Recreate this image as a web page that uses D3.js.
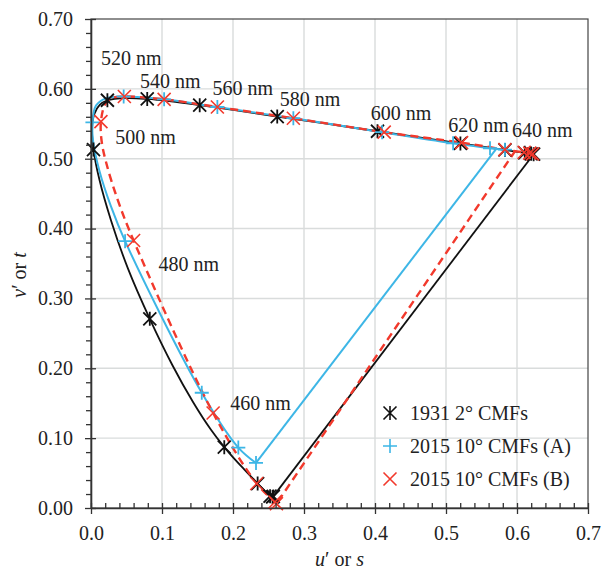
<!DOCTYPE html>
<html>
<head>
<meta charset="utf-8">
<script src="https://cdn.jsdelivr.net/npm/d3@7"></script>
<style>
  html, body { margin: 0; padding: 0; background: #fff; }
  svg { display: block; font-family: "Liberation Serif", "Times New Roman", Times, "Noto Serif", "DejaVu Serif", "Nimbus Roman", FreeSerif, serif; }
  svg text { fill: #222; }
</style>
</head>
<body>
<svg id="chart" width="604" height="574"></svg>
<script>
// Spectral locus, CIE 1931 2° observer (u', v')
const wl1931 = [380, 400, 420, 430, 440, 450, 455, 460, 465, 470, 475, 480, 485, 490, 495, 500, 505, 510, 515, 520, 530, 540, 550, 560, 570, 580, 590, 600, 610, 620, 630, 640, 660, 680, 700];
const u1931 = [0.2568, 0.2557, 0.2522, 0.2461, 0.2347, 0.2161, 0.2033, 0.1877, 0.1690, 0.1441, 0.1147, 0.0828, 0.0521, 0.0282, 0.0119, 0.0035, 0.0014, 0.0046, 0.0123, 0.0231, 0.0501, 0.0792, 0.1127, 0.1531, 0.2026, 0.2623, 0.3315, 0.4035, 0.4692, 0.5203, 0.5565, 0.5830, 0.6109, 0.6199, 0.6234];
const v1931 = [0.0166, 0.0159, 0.0169, 0.0226, 0.0350, 0.0549, 0.0688, 0.0871, 0.1119, 0.1510, 0.2044, 0.2708, 0.3427, 0.4117, 0.4698, 0.5131, 0.5432, 0.5638, 0.5770, 0.5837, 0.5868, 0.5856, 0.5821, 0.5766, 0.5694, 0.5604, 0.5501, 0.5393, 0.5296, 0.5219, 0.5165, 0.5125, 0.5084, 0.5070, 0.5065];
const purple1931U = [0.6234, 0.2568];
const purple1931V = [0.5065, 0.0166];

// 2015 10° CMFs, variant A (s, t); null wavelength = shape point without marker
const wlA = [420, 440, 460, 480, null, null, null, 500, null, null, 520, 540, 560, 580, 600, 620, 640, 660];
const uA = [0.2324, 0.2075, 0.156, 0.048, 0.028, 0.012, 0.003, 0.002, 0.007, 0.020, 0.046, 0.103, 0.178, 0.285, 0.410, 0.510, 0.562, 0.583];
const vA = [0.0645, 0.0865, 0.165, 0.382, 0.432, 0.482, 0.525, 0.552, 0.576, 0.586, 0.589, 0.585, 0.574, 0.558, 0.538, 0.522, 0.515, 0.513];
const purpleAU = [0.571, 0.2324];
const purpleAV = [0.5145, 0.0645];

// 2015 10° CMFs, variant B
const wlB = [400, 420, 440, 460, 480, null, null, null, 500, null, null, 520, 540, 560, 580, 600, 620, 640, 660, 680, 700];
const uB = [0.2612, 0.2590, 0.2334, 0.172, 0.060, 0.038, 0.022, 0.015, 0.014, 0.020, 0.030, 0.047, 0.103, 0.178, 0.285, 0.413, 0.522, 0.583, 0.610, 0.618, 0.622];
const vB = [0.0060, 0.0086, 0.0350, 0.136, 0.383, 0.440, 0.492, 0.525, 0.553, 0.578, 0.587, 0.589, 0.585, 0.574, 0.558, 0.538, 0.523, 0.513, 0.509, 0.508, 0.507];
const purpleBU = [0.598, 0.2612];
const purpleBV = [0.512, 0.006];

// Wavelength annotations: label, u, v of the text anchor
const waveLabels = ["520 nm", "540 nm", "560 nm", "580 nm", "600 nm", "620 nm", "640 nm", "500 nm", "480 nm", "460 nm"];
const waveLabelU = [0.014, 0.069, 0.171, 0.266, 0.394, 0.503, 0.593, 0.034, 0.095, 0.196];
const waveLabelV = [0.634, 0.601, 0.591, 0.575, 0.555, 0.538, 0.531, 0.521, 0.339, 0.140];

const xTicks = [0, 0.1, 0.2, 0.3, 0.4, 0.5, 0.6, 0.7];
const yTicks = [0, 0.1, 0.2, 0.3, 0.4, 0.5, 0.6, 0.7];
const legendLabels = ["1931 2° CMFs", "2015 10° CMFs (A)", "2015 10° CMFs (B)"];

const colBlack = "#111111", colCyan = "#3db6e6", colRed = "#f2392c";

const svg = d3.select("#chart");
const x = d3.scaleLinear().domain([0, 0.7]).range([91, 588]);
const y = d3.scaleLinear().domain([0, 0.7]).range([508, 19]);

// grid
const grid = svg.append("g");
grid.selectAll("line.gx").data(xTicks.slice(1, -1)).join("line")
  .attr("x1", d => x(d)).attr("x2", d => x(d)).attr("y1", y(0)).attr("y2", y(0.7))
  .attr("stroke", "#d9dcdc").attr("stroke-width", 1.4);
grid.selectAll("line.gy").data(yTicks.slice(1, -1)).join("line")
  .attr("y1", d => y(d)).attr("y2", d => y(d)).attr("x1", x(0)).attr("x2", x(0.7))
  .attr("stroke", "#d9dcdc").attr("stroke-width", 1.4);

// frame
svg.append("rect").attr("x", x(0)).attr("y", y(0.7)).attr("width", x(0.7) - x(0)).attr("height", y(0) - y(0.7))
  .attr("fill", "none").attr("stroke", "#444").attr("stroke-width", 1.2);

// curves
const pts = (us, vs) => us.map((u, i) => [u, vs[i]]);
const smooth = d3.line().x(d => x(d[0])).y(d => y(d[1])).curve(d3.curveCatmullRom.alpha(0.5));
const straight = d3.line().x(d => x(d[0])).y(d => y(d[1]));

const curves = svg.append("g").attr("fill", "none");
curves.append("path").attr("d", smooth(pts(u1931, v1931))).attr("stroke", colBlack).attr("stroke-width", 1.8);
curves.append("path").attr("d", straight(pts(purple1931U, purple1931V))).attr("stroke", colBlack).attr("stroke-width", 1.8);
curves.append("path").attr("d", smooth(pts(uA, vA))).attr("stroke", colCyan).attr("stroke-width", 2);
curves.append("path").attr("d", straight(pts(purpleAU, purpleAV))).attr("stroke", colCyan).attr("stroke-width", 2);
curves.append("path").attr("d", smooth(pts(uB, vB))).attr("stroke", colRed).attr("stroke-width", 2.4).attr("stroke-dasharray", "8,5");
curves.append("path").attr("d", straight(pts(purpleBU, purpleBV))).attr("stroke", colRed).attr("stroke-width", 2.4).attr("stroke-dasharray", "8,5");

// marker shapes
const r = 6.5;
const star = `M${-r},${-r}L${r},${r}M${-r},${r}L${r},${-r}M0,${-r - 0.5}L0,${r + 0.5}`;
const plus = `M${-r - 0.5},0L${r + 0.5},0M0,${-r - 0.5}L0,${r + 0.5}`;
const cross = `M${-r},${-r}L${r},${r}M${-r},${r}L${r},${-r}`;

function markers(wls, us, vs, shape, color, width) {
  const data = wls.map((w, i) => ({ w, u: us[i], v: vs[i] })).filter(d => d.w !== null && d.w % 20 === 0);
  svg.append("g").selectAll("path").data(data).join("path")
    .attr("transform", d => `translate(${x(d.u)},${y(d.v)})`)
    .attr("d", shape).attr("fill", "none").attr("stroke", color).attr("stroke-width", width);
}
markers(wl1931, u1931, v1931, star, colBlack, 1.8);
markers(wlA, uA, vA, plus, colCyan, 1.8);
markers(wlB, uB, vB, cross, colRed, 1.6);

// wavelength labels
svg.append("g").selectAll("text").data(waveLabels).join("text")
  .attr("x", (d, i) => x(waveLabelU[i])).attr("y", (d, i) => y(waveLabelV[i]))
  .attr("font-size", 20).text(d => d);

// axes
const xAxis = svg.append("g").attr("transform", `translate(0,${y(0)})`)
  .call(d3.axisBottom(x).tickValues(xTicks).tickFormat(d3.format(".1f")).tickSize(6).tickSizeOuter(0).tickPadding(12));
xAxis.selectAll(".tick line").attr("y1", -5);
const yAxis = svg.append("g").attr("transform", `translate(${x(0)},0)`)
  .call(d3.axisLeft(y).tickValues(yTicks).tickFormat(d3.format(".2f")).tickSize(6).tickSizeOuter(0).tickPadding(12));
yAxis.selectAll(".tick line").attr("x1", 5);

const minorVals = d3.range(1, 35).filter(i => i % 5 !== 0).map(i => i / 50);
const xMinor = svg.append("g").attr("transform", `translate(0,${y(0)})`)
  .call(d3.axisBottom(x).tickValues(minorVals).tickFormat("").tickSize(-5).tickSizeOuter(0));
const yMinor = svg.append("g").attr("transform", `translate(${x(0)},0)`)
  .call(d3.axisLeft(y).tickValues(minorVals).tickFormat("").tickSize(5).tickSizeOuter(0));
[xMinor, yMinor].forEach(g => g.select(".domain").remove());

[xAxis, yAxis, xMinor, yMinor].forEach(g => {
  g.attr("font-family", null).attr("font-size", 20);
  g.selectAll(".tick line").attr("stroke", "#333").attr("stroke-width", 1.3);
  g.selectAll(".domain").attr("stroke", "#333").attr("stroke-width", 1.6);
  g.selectAll("text").attr("fill", "#222");
});

// axis titles
const xt = svg.append("text").attr("x", (x(0) + x(0.7)) / 2).attr("y", 566)
  .attr("text-anchor", "middle").attr("font-size", 20);
xt.append("tspan").attr("font-style", "italic").text("u");
xt.append("tspan").text("′ or ");
xt.append("tspan").attr("font-style", "italic").text("s");

const yt = svg.append("text").attr("transform", "translate(26,275) rotate(-90)")
  .attr("text-anchor", "middle").attr("font-size", 20);
yt.append("tspan").attr("font-style", "italic").text("v");
yt.append("tspan").text("′ or ");
yt.append("tspan").attr("font-style", "italic").text("t");

// legend
const legendShapes = [star, plus, cross];
const legendColors = [colBlack, colCyan, colRed];
const leg = svg.append("g").attr("transform", "translate(390,413)");
legendLabels.forEach((lab, i) => {
  const row = leg.append("g").attr("transform", `translate(0,${i * 33})`);
  row.append("path").attr("d", legendShapes[i]).attr("fill", "none")
    .attr("stroke", legendColors[i]).attr("stroke-width", 1.6);
  row.append("text").attr("x", 20).attr("y", 0).attr("dy", "0.35em")
    .attr("font-size", 20).text(lab);
});
</script>
</body>
</html>
